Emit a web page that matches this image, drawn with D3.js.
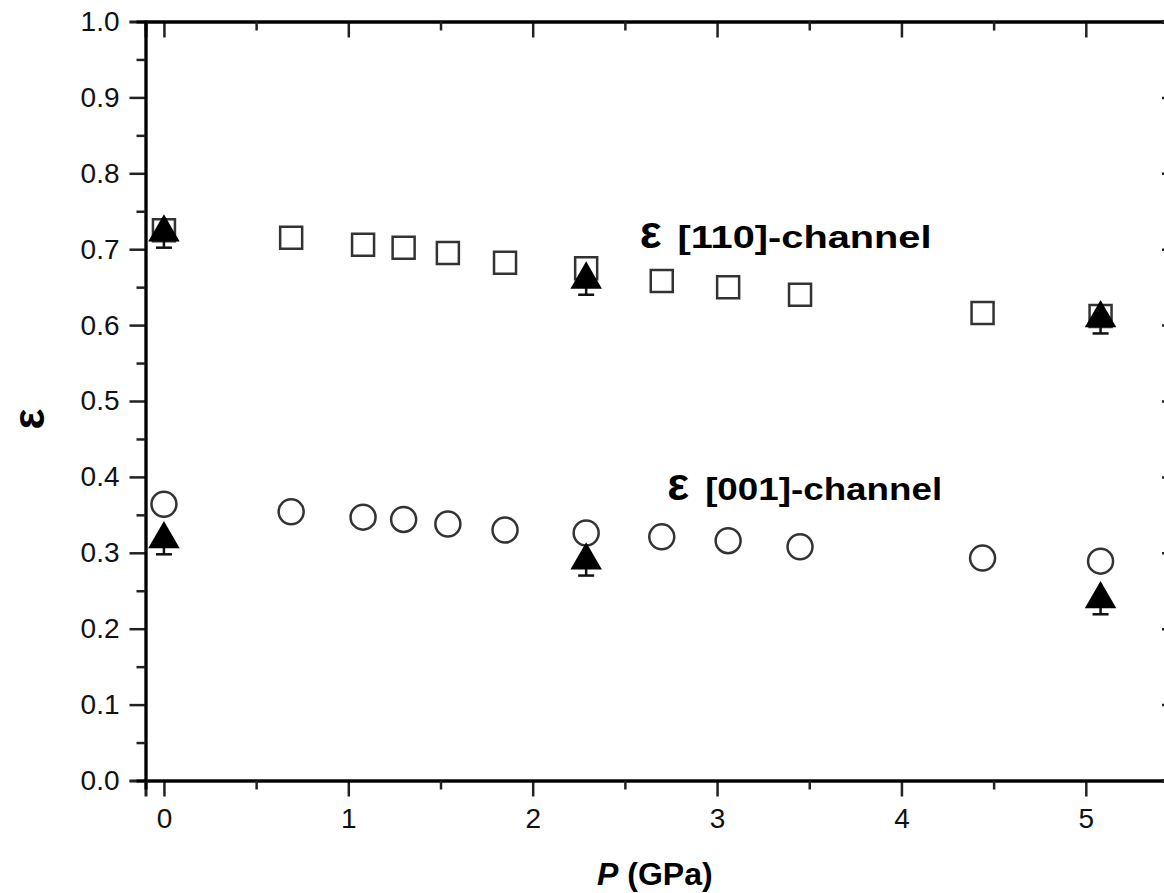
<!DOCTYPE html>
<html>
<head>
<meta charset="utf-8">
<script src="https://cdn.jsdelivr.net/npm/d3@7"></script>
<style>
  body { margin: 0; background: #fff; }
  svg { display: block; font-family: Arial, "Liberation Sans", sans-serif; }
</style>
</head>
<body>
<div class="canva"></div>
<script>
// data
const pressure = [0, 0.69, 1.08, 1.30, 1.54, 1.85, 2.29, 2.70, 3.06, 3.45, 4.44, 5.08];
const eps110 = [0.725, 0.715, 0.706, 0.702, 0.695, 0.682, 0.675, 0.658, 0.650, 0.640, 0.616, 0.612];
const eps001 = [0.364, 0.354, 0.347, 0.344, 0.338, 0.330, 0.326, 0.321, 0.316, 0.308, 0.293, 0.289];

// filled triangles with error bars
const triPressure = [0, 2.29, 5.08];
const tri110 = [0.722, 0.660, 0.609];
const tri001 = [0.318, 0.290, 0.239];
const triErr = [0.02, 0.02, 0.02];

const xTicks = [0, 1, 2, 3, 4, 5];
const yTicks = [0, 0.1, 0.2, 0.3, 0.4, 0.5, 0.6, 0.7, 0.8, 0.9, 1.0];

const width = 1164, height = 893;
const margin = {top: 21.5, right: -14, bottom: 112.5, left: 145.5};

const svg = d3.select(".canva").append("svg")
    .attr("width", width)
    .attr("height", height);

const x = d3.scaleLinear()
    .domain([-0.1, 5.5])
    .range([margin.left, width - margin.right]);

const y = d3.scaleLinear()
    .domain([0, 1])
    .range([height - margin.bottom, margin.top]);

const minorX = d3.range(0, 5.51, 0.5).filter(v => Math.abs(v - Math.round(v)) > 0.01);
const minorY = d3.range(0.05, 1, 0.1);

// bottom axis
const gx = svg.append("g")
    .attr("transform", `translate(0,${y(0)})`)
    .call(d3.axisBottom(x).tickValues(xTicks).tickFormat(d3.format("d")).tickSize(16).tickPadding(12));
gx.append("g").call(d3.axisBottom(x).tickValues(minorX).tickSize(9).tickFormat(""));

// top axis (ticks inward)
const gt = svg.append("g")
    .attr("transform", `translate(0,${y(1)})`)
    .call(d3.axisBottom(x).tickValues(xTicks).tickSize(16).tickFormat(""));
gt.append("g").call(d3.axisBottom(x).tickValues(minorX).tickSize(9).tickFormat(""));

// left axis
const gy = svg.append("g")
    .attr("transform", `translate(${x(-0.1)},0)`)
    .call(d3.axisLeft(y).tickValues(yTicks).tickFormat(d3.format(".1f")).tickSize(16).tickPadding(10));
gy.append("g").call(d3.axisLeft(y).tickValues(minorY).tickSize(9).tickFormat(""));

// right axis (ticks inward)
const gr = svg.append("g")
    .attr("transform", `translate(${x(5.5)},0)`)
    .call(d3.axisLeft(y).tickValues(yTicks).tickSize(16).tickFormat(""));
gr.append("g").call(d3.axisLeft(y).tickValues(minorY).tickSize(9).tickFormat(""));

svg.selectAll(".domain").attr("stroke-width", 3);
gy.select(".domain").attr("stroke", "#555");
gx.select(".domain").attr("stroke", "#222");
gt.select(".domain").attr("stroke", "#000");
svg.selectAll(".tick line").attr("stroke-width", 2.5).attr("stroke", "#222");
svg.selectAll(".tick text").style("font-size", "28px").attr("fill", "#111");
svg.selectAll("g > g > g > .domain").remove();

// axis titles
svg.append("text")
    .attr("transform", `translate(44,${y(0.5) + 18}) rotate(-90)`)
    .attr("text-anchor", "middle")
    .style("font-size", "44px")
    .style("font-weight", "bold")
    .text("ε");

const xl = svg.append("text")
    .attr("x", 597)
    .attr("y", 885)
    .style("font-size", "32px")
    .style("font-weight", "bold");
xl.append("tspan").style("font-style", "italic").text("P");
xl.append("tspan").text("  (GPa)");

// points
const pts110 = pressure.map((p, i) => ({p: p, v: eps110[i]}));
const pts001 = pressure.map((p, i) => ({p: p, v: eps001[i]}));

svg.append("g")
    .selectAll("path")
    .data(pts110)
    .join("path")
    .attr("transform", d => `translate(${x(d.p)},${y(d.v)})`)
    .attr("d", d3.symbol(d3.symbolSquare, 484))
    .attr("fill", "white")
    .attr("stroke", "#333")
    .attr("stroke-width", 2.5);

svg.append("g")
    .selectAll("circle")
    .data(pts001)
    .join("circle")
    .attr("cx", d => x(d.p))
    .attr("cy", d => y(d.v))
    .attr("r", 12.5)
    .attr("fill", "white")
    .attr("stroke", "#333")
    .attr("stroke-width", 2.5);

// triangles + error bars
const tris = [];
triPressure.forEach((p, i) => {
    tris.push({p: p, v: tri110[i], e: triErr[i]});
    tris.push({p: p, v: tri001[i], e: triErr[i]});
});

const eb = svg.append("g").attr("stroke", "#111").attr("stroke-width", 2.5);
eb.selectAll("line.v")
    .data(tris)
    .join("line")
    .attr("class", "v")
    .attr("x1", d => x(d.p)).attr("x2", d => x(d.p))
    .attr("y1", d => y(d.v - d.e)).attr("y2", d => y(d.v));
eb.selectAll("line.lo")
    .data(tris)
    .join("line")
    .attr("class", "lo")
    .attr("x1", d => x(d.p) - 8).attr("x2", d => x(d.p) + 8)
    .attr("y1", d => y(d.v - d.e)).attr("y2", d => y(d.v - d.e));

svg.append("g")
    .selectAll("path")
    .data(tris)
    .join("path")
    .attr("transform", d => `translate(${x(d.p)},${y(d.v)})`)
    .attr("d", d3.symbol(d3.symbolTriangle, 430))
    .attr("fill", "#000");

// annotations
function label(px, py, txt, len) {
    const t = svg.append("text")
        .attr("x", x(px))
        .attr("y", y(py))
        .style("font-weight", "bold")
        .style("font-size", "31px");
    t.append("tspan").style("font-size", "46px").text("ε");
    t.append("tspan").attr("dx", 16)
        .attr("textLength", len)
        .attr("lengthAdjust", "spacingAndGlyphs")
        .text(txt);
}
label(2.58, 0.701, "[110]-channel", 254);
label(2.73, 0.370, "[001]-channel", 237);
</script>
</body>
</html>
